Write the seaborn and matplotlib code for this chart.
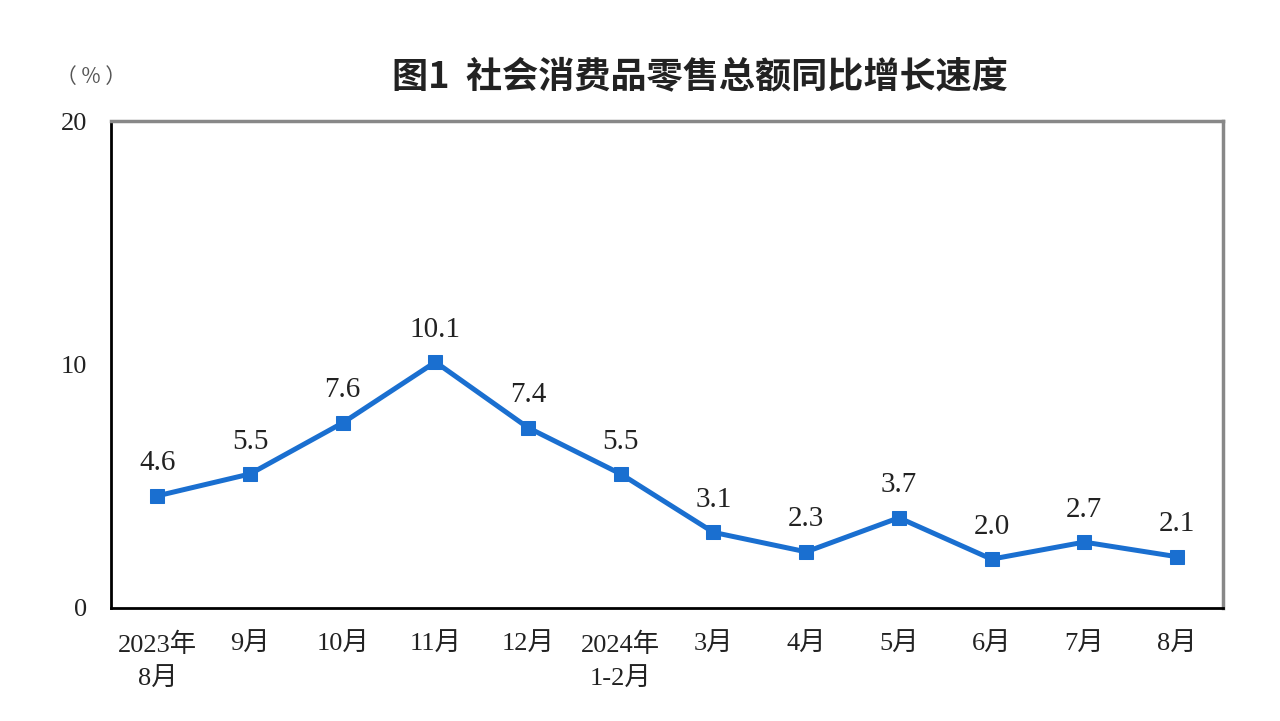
import matplotlib
matplotlib.use("Agg")
import matplotlib.pyplot as plt
import seaborn as sns
import pandas as pd

categories = ["2023年\n8月", "9月", "10月", "11月", "12月", "2024年\n1-2月",
              "3月", "4月", "5月", "6月", "7月", "8月"]
values = [4.6, 5.5, 7.6, 10.1, 7.4, 5.5, 3.1, 2.3, 3.7, 2.0, 2.7, 2.1]
y_ticks = [0, 10, 20]
title = "图1  社会消费品零售总额同比增长速度"
unit = "（ % ）"

sns.set_theme(style="white")
plt.rcParams['font.family'] = ['Liberation Serif', 'Noto Sans CJK SC', 'DejaVu Sans']

df = pd.DataFrame({"pos": list(range(len(categories))), "value": values})

fig = plt.figure(figsize=(12.8, 7.21), dpi=100)
ax = fig.add_axes([0.0867, 0.157, 0.869, 0.675])

color = "#1a6fd0"
sns.lineplot(data=df, x="pos", y="value", ax=ax, color=color, linewidth=3.6,
             marker="s", markersize=10, markeredgecolor=color, markerfacecolor=color)

ax.set_xlim(-0.5, len(categories) - 0.5)
ax.set_ylim(0, 20)
ax.set_yticks(y_ticks)
ax.set_yticklabels([str(t) for t in y_ticks], fontsize=19, color="#222222")
ax.set_xticks(range(len(categories)))
ax.set_xticklabels(categories, fontsize=19, color="#222222", linespacing=1.6)
ax.tick_params(axis="x", which="major", length=0, pad=18)
ax.set_xticks([i + 0.5 for i in range(len(categories) - 1)], minor=True)
ax.tick_params(axis="x", which="minor", direction="in", length=8, width=1.5, color="black")
ax.tick_params(axis="y", which="major", direction="out", length=5, width=1.5, color="black", pad=12)
ax.set_xlabel("")
ax.set_ylabel("")

for side in ["left", "bottom"]:
    ax.spines[side].set_color("black")
    ax.spines[side].set_linewidth(2)
for side in ["top", "right"]:
    ax.spines[side].set_visible(True)
    ax.spines[side].set_color("#888888")
    ax.spines[side].set_linewidth(2.5)

for x, v in zip(df["pos"], df["value"]):
    ax.annotate(f"{v:.1f}", (x, v), xytext=(0, 14), textcoords="offset points",
                ha="center", va="bottom", fontsize=21, color="#222222")

fig.text(0.547, 0.892, title, ha="center", va="center", fontsize=26,
         fontweight="bold", color="#222222",
         family=['Noto Sans CJK SC', 'DejaVu Sans'])
fig.text(0.071, 0.893, unit, ha="center", va="center", fontsize=15, color="#555555",
         family=['Noto Sans CJK SC', 'DejaVu Sans'])

fig.savefig("out.png", dpi=100, facecolor="white")
